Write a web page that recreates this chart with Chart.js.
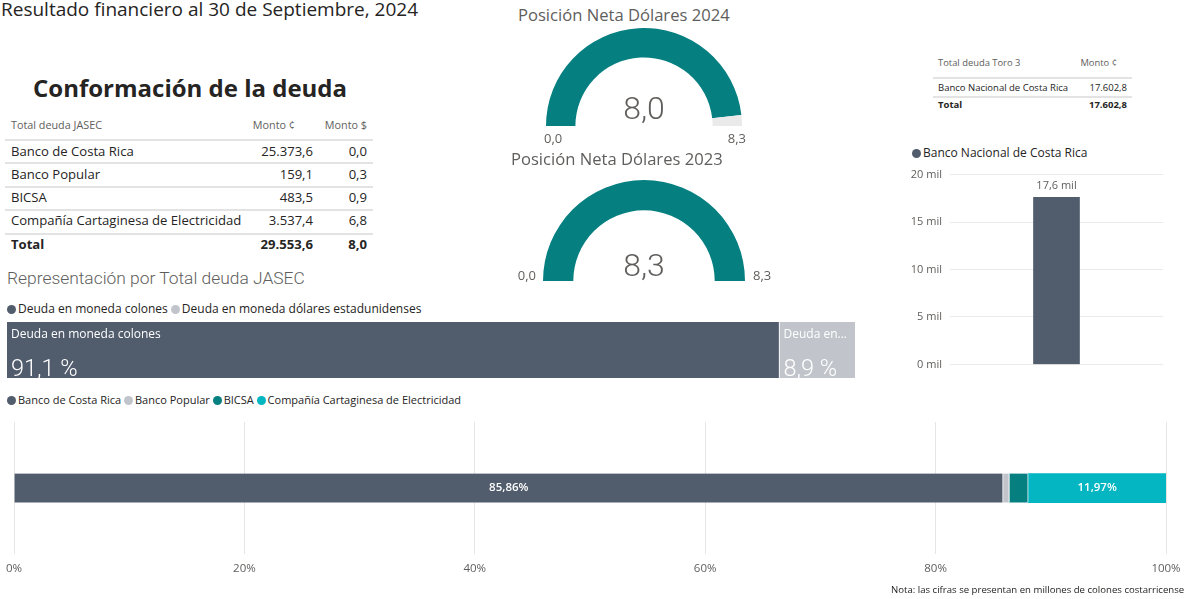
<!DOCTYPE html>
<html>
<head>
<meta charset="utf-8">
<script src="https://cdn.jsdelivr.net/npm/chart.js@4.4.1/dist/chart.umd.min.js"></script>
<style>
  body { margin: 0; width: 1184px; height: 599px; overflow: hidden; background: #fff;
         font-family: "Open Sans", sans-serif; color: #252423; position: relative; }
  .abs { position: absolute; white-space: nowrap; }
  .box { position: absolute; }
  .gray { color: #605E5C; }
  .line { position: absolute; height: 2px; background: #E3E3E3; }
  .dot { display: inline-block; width: 9px; height: 9px; border-radius: 50%; margin-right: 2px; vertical-align: -1px; }
  .light { font-family: Roboto, "Open Sans", sans-serif; font-weight: 300; }
</style>
</head>
<body>
<div class="abs" style="left:1px;top:-4px;font-size:19px;">Resultado financiero al 30 de Septiembre, 2024</div>
<div class="abs" style="left:33px;top:71px;font-size:24px;font-weight:bold;">Conformación de la deuda</div>
<div id="tabla1"></div>
<div id="tabla2"></div>

<div class="abs gray" style="left:518px;top:3px;font-size:16.6px;">Posición Neta Dólares 2024</div>
<div class="box" style="left:546px;top:28px;width:196px;height:98px;"><canvas id="g24"></canvas></div>
<div class="abs gray light" id="v24" style="left:594px;top:89px;width:100px;text-align:center;font-size:32px;"></div>
<div class="abs gray" id="min24" style="left:544px;top:129px;font-size:13px;"></div>
<div class="abs gray" id="max24" style="left:700px;top:129px;width:46px;text-align:right;font-size:13px;"></div>

<div class="abs gray" style="left:511px;top:147px;font-size:16.6px;">Posición Neta Dólares 2023</div>
<div class="box" style="left:543px;top:180px;width:202px;height:101px;"><canvas id="g23"></canvas></div>
<div class="abs gray light" id="v23" style="left:594px;top:246px;width:100px;text-align:center;font-size:32px;"></div>
<div class="abs gray" id="min23" style="left:490px;top:266px;width:46px;text-align:right;font-size:13px;"></div>
<div class="abs gray" id="max23" style="left:753px;top:266px;font-size:13px;"></div>

<div class="abs" style="left:912px;top:144px;font-size:12px;"><span class="dot" style="background:#515C6C"></span>Banco Nacional de Costa Rica</div>
<div class="box" style="left:900px;top:160px;width:265px;height:219px;"><canvas id="toro"></canvas></div>

<div class="abs gray light" style="left:7px;top:268px;font-size:17.4px;">Representación por Total deuda JASEC</div>
<div class="abs" id="leyMoneda" style="left:7px;top:300px;font-size:12px;"></div>
<div class="box" style="left:7px;top:322px;width:848px;height:56px;"><canvas id="moneda"></canvas></div>

<div class="abs" id="leyBancos" style="left:7px;top:392px;font-size:11px;"></div>
<div class="box" style="left:0px;top:414px;width:1184px;height:170px;"><canvas id="bancos"></canvas></div>

<div class="abs" style="left:891px;top:583px;font-size:9.6px;">Nota: las cifras se presentan en millones de colones costarricenses</div>

<script>
// deuda JASEC
var bancos = ['Banco de Costa Rica', 'Banco Popular', 'BICSA', 'Compañía Cartaginesa de Electricidad'];
var montoColones = [25373.6, 159.1, 483.5, 3537.4];
var montoDolares = [0.0, 0.3, 0.9, 6.8];
var totalColones = 29553.6;
var totalDolares = 8.0;
// participacion por banco (%)
var participacion = [85.86, 0.54, 1.64, 11.97];
// deuda por moneda (%)
var monedas = ['Deuda en moneda colones', 'Deuda en moneda dólares estadunidenses'];
var monedaPct = [91.1, 8.9];
// posicion neta dolares
var posicion2024 = 8.0;
var posicion2023 = 8.3;
var gaugeMin = 0.0;
var gaugeMax = 8.3;
// Toro 3
var toroBancos = ['Banco Nacional de Costa Rica'];
var toroMonto = [17602.8];
var toroTicks = [0, 5000, 10000, 15000, 20000];

var slate = '#515C6C', claro = '#C1C5CB', teal = '#067F80', cian = '#03B6C2';
var coloresBancos = [slate, claro, teal, cian];

Chart.defaults.font.family = '"Open Sans", sans-serif';
Chart.defaults.animation = false;

function fmt(n, d) {
    var s = n.toFixed(d).split('.');
    s[0] = s[0].replace(/\B(?=(\d{3})+(?!\d))/g, '.');
    return s.join(',');
}
function div(parent, css, text, cls) {
    var el = document.createElement('div');
    el.className = cls || 'abs';
    el.style.cssText = css;
    if (text !== undefined) el.textContent = text;
    parent.appendChild(el);
    return el;
}

// tabla JASEC
var t1 = document.getElementById('tabla1');
div(t1, 'left:11px;top:117px;font-size:10.8px;color:#605E5C', 'Total deuda JASEC');
div(t1, 'left:200px;top:117px;width:95px;text-align:right;font-size:10.8px;color:#605E5C', 'Monto ¢');
div(t1, 'left:300px;top:117px;width:67px;text-align:right;font-size:10.8px;color:#605E5C', 'Monto $');
div(t1, 'left:5px;top:139px;width:368px', undefined, 'line');
var filaY = [152, 175, 198, 221];
var lineaY = [162, 186, 209, 233];
for (var i = 0; i < bancos.length; i++) {
    div(t1, 'left:11px;top:' + (filaY[i] - 10) + 'px;font-size:13.1px', bancos[i]);
    div(t1, 'left:200px;top:' + (filaY[i] - 10) + 'px;width:113px;text-align:right;font-size:13.1px', fmt(montoColones[i], 1));
    div(t1, 'left:300px;top:' + (filaY[i] - 10) + 'px;width:67px;text-align:right;font-size:13.1px', fmt(montoDolares[i], 1));
    div(t1, 'left:5px;top:' + lineaY[i] + 'px;width:368px', undefined, 'line');
}
div(t1, 'left:11px;top:235px;font-size:13.1px;font-weight:bold', 'Total');
div(t1, 'left:200px;top:235px;width:113px;text-align:right;font-size:13.1px;font-weight:bold', fmt(totalColones, 1));
div(t1, 'left:300px;top:235px;width:67px;text-align:right;font-size:13.1px;font-weight:bold', fmt(totalDolares, 1));

// tabla Toro 3
var t2 = document.getElementById('tabla2');
div(t2, 'left:938px;top:56px;font-size:9.4px;color:#605E5C', 'Total deuda Toro 3');
div(t2, 'left:1060px;top:56px;width:57px;text-align:right;font-size:9.4px;color:#605E5C', 'Monto ¢');
div(t2, 'left:933px;top:77px;width:199px;height:1.5px', undefined, 'line');
div(t2, 'left:938px;top:81px;font-size:9.5px', toroBancos[0]);
div(t2, 'left:1060px;top:81px;width:67px;text-align:right;font-size:9.5px', fmt(toroMonto[0], 1));
div(t2, 'left:933px;top:96px;width:199px;height:1.5px', undefined, 'line');
div(t2, 'left:938px;top:98px;font-size:9.5px;font-weight:bold', 'Total');
div(t2, 'left:1060px;top:98px;width:67px;text-align:right;font-size:9.5px;font-weight:bold', fmt(toroMonto[0], 1));

// medidores
function gauge(id, valor) {
    new Chart(document.getElementById(id), {
        type: 'doughnut',
        data: {
            labels: ['valor', 'resto'],
            datasets: [{ data: [valor - gaugeMin, gaugeMax - valor], backgroundColor: [teal, '#EAEAEA'], borderWidth: 0 }]
        },
        options: {
            responsive: true, maintainAspectRatio: false, events: [],
            rotation: -90, circumference: 180, cutout: '70%',
            plugins: { legend: { display: false }, tooltip: { enabled: false } }
        }
    });
}
gauge('g24', posicion2024);
gauge('g23', posicion2023);
document.getElementById('v24').textContent = fmt(posicion2024, 1);
document.getElementById('v23').textContent = fmt(posicion2023, 1);
document.getElementById('min24').textContent = fmt(gaugeMin, 1);
document.getElementById('max24').textContent = fmt(gaugeMax, 1);
document.getElementById('min23').textContent = fmt(gaugeMin, 1);
document.getElementById('max23').textContent = fmt(gaugeMax, 1);

// leyendas
function leyenda(id, nombres, colores) {
    var html = '';
    for (var i = 0; i < nombres.length; i++) {
        html += '<span class="dot" style="background:' + colores[i] + '"></span>' + nombres[i] + (i < nombres.length - 1 ? ' ' : '');
    }
    document.getElementById(id).innerHTML = html;
}
leyenda('leyMoneda', monedas, [slate, claro]);
leyenda('leyBancos', bancos, coloresBancos);

// barra Toro 3
var etiquetaArriba = {
    id: 'etiquetaArriba',
    afterDatasetsDraw: function (chart) {
        var ctx = chart.ctx;
        chart.getDatasetMeta(0).data.forEach(function (bar, i) {
            ctx.save();
            ctx.fillStyle = '#605E5C';
            ctx.font = '11px "Open Sans", sans-serif';
            ctx.textAlign = 'center';
            ctx.textBaseline = 'bottom';
            ctx.fillText(fmt(toroMonto[i] / 1000, 1) + ' mil', bar.x, bar.y - 6);
            ctx.restore();
        });
    }
};
new Chart(document.getElementById('toro'), {
    type: 'bar',
    data: { labels: toroBancos, datasets: [{ data: toroMonto, backgroundColor: slate, barThickness: 46 }] },
    options: {
        responsive: true, maintainAspectRatio: false, events: [],
        layout: { padding: { top: 10, bottom: 10, right: 2 } },
        scales: {
            x: { display: false },
            y: {
                min: 0, max: 20000,
                afterBuildTicks: function (s) { s.ticks = toroTicks.map(function (v) { return { value: v }; }); },
                afterFit: function (s) { s.width = 50; },
                ticks: { padding: 8, color: '#605E5C', font: { size: 11 }, callback: function (v) { return (v / 1000) + ' mil'; } },
                grid: { color: '#EAEAEA', drawTicks: false },
                border: { display: false }
            }
        },
        plugins: { legend: { display: false }, tooltip: { enabled: false } }
    },
    plugins: [etiquetaArriba]
});

// deuda por moneda
var etiquetaMoneda = {
    id: 'etiquetaMoneda',
    afterDatasetsDraw: function (chart) {
        var ctx = chart.ctx;
        chart.data.datasets.forEach(function (ds, d) {
            var bar = chart.getDatasetMeta(d).data[0];
            var p = bar.getProps(['x', 'y', 'base', 'height'], true);
            var izq = Math.min(p.x, p.base), ancho = Math.abs(p.x - p.base) - 8;
            var top = p.y - p.height / 2, bottom = p.y + p.height / 2;
            ctx.save();
            ctx.fillStyle = '#fff';
            ctx.textBaseline = 'alphabetic';
            ctx.font = '12px "Open Sans", sans-serif';
            var txt = ds.label;
            if (ctx.measureText(txt).width > ancho) {
                while (txt.length > 1 && ctx.measureText(txt + '...').width > ancho) txt = txt.slice(0, -1);
                txt = txt.trim() + '...';
            }
            ctx.fillText(txt, izq + 4, top + 16);
            ctx.font = '300 23.5px Roboto, "Open Sans", sans-serif';
            ctx.fillText(fmt(ds.data[0], 1) + ' %', izq + 4, bottom - 2);
            ctx.restore();
        });
    }
};
new Chart(document.getElementById('moneda'), {
    type: 'bar',
    data: {
        labels: ['Total deuda JASEC'],
        datasets: [
            { label: monedas[0], data: [monedaPct[0]], backgroundColor: slate, borderColor: '#fff', borderWidth: { right: 1 }, borderSkipped: false },
            { label: monedas[1], data: [monedaPct[1]], backgroundColor: claro, borderWidth: 0 }
        ]
    },
    options: {
        indexAxis: 'y', responsive: true, maintainAspectRatio: false, events: [],
        barPercentage: 1, categoryPercentage: 1,
        scales: { x: { display: false, stacked: true, min: 0, max: 100 }, y: { display: false, stacked: true } },
        plugins: { legend: { display: false }, tooltip: { enabled: false } }
    },
    plugins: [etiquetaMoneda]
});

// participacion por banco
var etiquetaBancos = {
    id: 'etiquetaBancos',
    afterDatasetsDraw: function (chart) {
        var ctx = chart.ctx;
        chart.data.datasets.forEach(function (ds, d) {
            if (ds.data[0] < 5) return;
            var bar = chart.getDatasetMeta(d).data[0];
            var p = bar.getProps(['x', 'y', 'base'], true);
            ctx.save();
            ctx.fillStyle = '#fff';
            ctx.font = '600 11.5px "Open Sans", sans-serif';
            ctx.textAlign = 'center';
            ctx.textBaseline = 'middle';
            ctx.fillText(fmt(ds.data[0], 2) + '%', (p.x + p.base) / 2, p.y);
            ctx.restore();
        });
    }
};
new Chart(document.getElementById('bancos'), {
    type: 'bar',
    data: {
        labels: ['Total deuda JASEC'],
        datasets: bancos.map(function (b, i) {
            return { label: b, data: [participacion[i]], backgroundColor: coloresBancos[i], borderColor: '#fff',
                     borderWidth: { right: i < bancos.length - 1 ? 1 : 0 }, borderSkipped: false, barThickness: 29 };
        })
    },
    options: {
        indexAxis: 'y', responsive: true, maintainAspectRatio: false, events: [],
        layout: { padding: { left: 14, right: 18, top: 8 } },
        scales: {
            x: {
                stacked: true, min: 0, max: 100,
                afterFit: function (s) { s.paddingLeft = 0; s.paddingRight = 0; },
                ticks: { stepSize: 20, padding: 8, color: '#605E5C', font: { size: 11.5 }, callback: function (v) { return v + '%'; } },
                grid: { color: '#E6E6E6', drawTicks: false },
                border: { display: false }
            },
            y: { stacked: true, display: false }
        },
        plugins: { legend: { display: false }, tooltip: { enabled: false } }
    },
    plugins: [etiquetaBancos]
});
</script>
</body>
</html>
